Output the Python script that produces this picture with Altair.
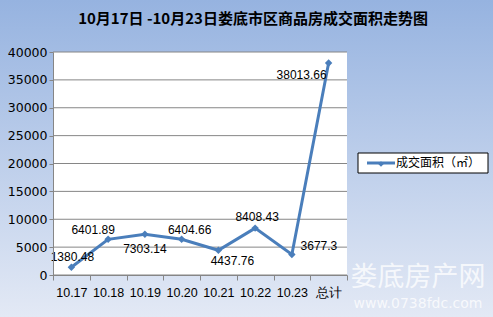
import altair as alt
import pandas as pd

categories = ["10.17", "10.18", "10.19", "10.20", "10.21", "10.22", "10.23", "总计"]
values = [1380.48, 6401.89, 7303.14, 6404.66, 4437.76, 8408.43, 3677.3, 38013.66]
value_labels = ["1380.48", "6401.89", "7303.14", "6404.66", "4437.76", "8408.43", "3677.3", "38013.66"]
y_ticks = [0, 5000, 10000, 15000, 20000, 25000, 30000, 35000, 40000]
title_text = "10月17日 -10月23日娄底市区商品房成交面积走势图"
series_name = "成交面积（㎡）"
watermark_cn = "娄底房产网"
watermark_url = "www.0738fdc.com"

# label offsets (style only)
label_offsets = [(1, -10), (-15, -9), (0, 15), (8, -9), (14, 11), (2, -11), (27, -8), (-27, 12)]

W, H = 294, 223
PAD = {"left": 53, "top": 52, "right": 146, "bottom": 42}
BLUE = "#4A7EBB"
GRID = "#868686"

df = pd.DataFrame({"cat": categories, "val": values, "lab": value_labels})
ticks_df = pd.DataFrame({"val": y_ticks})
one = pd.DataFrame({"k": [0]})

xs = alt.Scale(type="band", domain=categories, paddingInner=0, paddingOuter=0)
ys = alt.Scale(domain=[0, 40000], nice=False, zero=True)

x_axis = alt.Axis(title=None, labelAngle=0, tickBand="extent", tickSize=5,
                  labelPadding=6, domainColor=GRID, tickColor=GRID,
                  labelFont="Liberation Sans", labelFontSize=12.5,
                  labelColor="#000000", grid=False, zindex=1)
y_axis = alt.Axis(title=None, values=y_ticks, format="d", tickSize=4, labelPadding=2,
                  grid=False, domainColor=GRID, tickColor=GRID,
                  labelFont="DejaVu Sans", labelFontSize=12.5,
                  labelColor="#000000", zindex=1)

X = alt.X("cat:N", scale=xs, bandPosition=0.5, sort=categories, axis=x_axis)
Y = alt.Y("val:Q", scale=ys, axis=y_axis)

grad = alt.Gradient(gradient="linear",
                    stops=[alt.GradientStop(color="#96B3E0", offset=0),
                           alt.GradientStop(color="#E3E9F5", offset=1)],
                    x1=0, x2=0, y1=0, y2=1)

bg = alt.Chart(one).mark_rect(fill=grad).encode(
    x=alt.value(-PAD["left"]), x2=alt.value(W + PAD["right"]),
    y=alt.value(-PAD["top"]), y2=alt.value(H + PAD["bottom"]))

plot_bg = alt.Chart(one).mark_rect(fill="white").encode(
    x=alt.value(0), x2=alt.value(W), y=alt.value(0), y2=alt.value(H))

grid = alt.Chart(ticks_df).mark_rule(color=GRID, strokeWidth=1).encode(
    y=Y, x=alt.value(0), x2=alt.value(W))

line = alt.Chart(df).mark_line(color=BLUE, strokeWidth=3).encode(x=X, y=Y)
pts = alt.Chart(df).mark_point(shape="diamond", filled=True, color=BLUE, size=55, opacity=1).encode(
    x=X, y=Y)

labels = []
for cat, (dx, dy) in zip(categories, label_offsets):
    labels.append(
        alt.Chart(df).transform_filter(alt.datum.cat == cat).mark_text(
            dx=dx, dy=dy, font="Liberation Sans", fontSize=12, color="#000000",
            baseline="middle", align="center").encode(
            x=X, y=Y, text="lab:N"))

leg_box = alt.Chart(one).mark_rect(fill="white", stroke="#000000", strokeWidth=1).encode(
    x=alt.value(305), x2=alt.value(435), y=alt.value(101), y2=alt.value(121))
leg_line = alt.Chart(one).mark_rule(color=BLUE, strokeWidth=3).encode(
    x=alt.value(314), x2=alt.value(342), y=alt.value(111))
leg_pt = alt.Chart(one).mark_point(shape="diamond", filled=True, color=BLUE, size=30, opacity=1).encode(
    x=alt.value(328), y=alt.value(112))
leg_txt = alt.Chart(pd.DataFrame({"t": [series_name]})).mark_text(
    align="left", baseline="middle", font="Noto Sans CJK SC", fontSize=12, color="#000000").encode(
    x=alt.value(343), y=alt.value(111), text="t:N")

title = alt.Chart(pd.DataFrame({"t": [title_text]})).mark_text(
    align="center", baseline="middle", font="Noto Sans CJK SC", fontSize=15,
    fontWeight="bold", color="#000000").encode(
    x=alt.value(200), y=alt.value(-33), text="t:N")

wm1 = alt.Chart(pd.DataFrame({"t": [watermark_cn]})).mark_text(
    align="center", baseline="middle", font="Noto Sans CJK SC", fontSize=27,
    color="white", opacity=0.75).encode(x=alt.value(365), y=alt.value(226), text="t:N")
wm2 = alt.Chart(pd.DataFrame({"t": [watermark_url]})).mark_text(
    align="center", baseline="middle", font="DejaVu Sans", fontSize=14,
    color="white", opacity=0.75).encode(x=alt.value(365), y=alt.value(252), text="t:N")

chart = alt.layer(bg, plot_bg, grid, line, pts, *labels,
                  leg_box, leg_line, leg_pt, leg_txt, title, wm1, wm2).properties(
    width=W, height=H,
    autosize=alt.AutoSizeParams(type="none"),
    padding=PAD,
).configure_view(stroke=None).configure(background="#C7D5EE")

chart.save("out.html", embed_options={"renderer": "svg", "actions": False})
